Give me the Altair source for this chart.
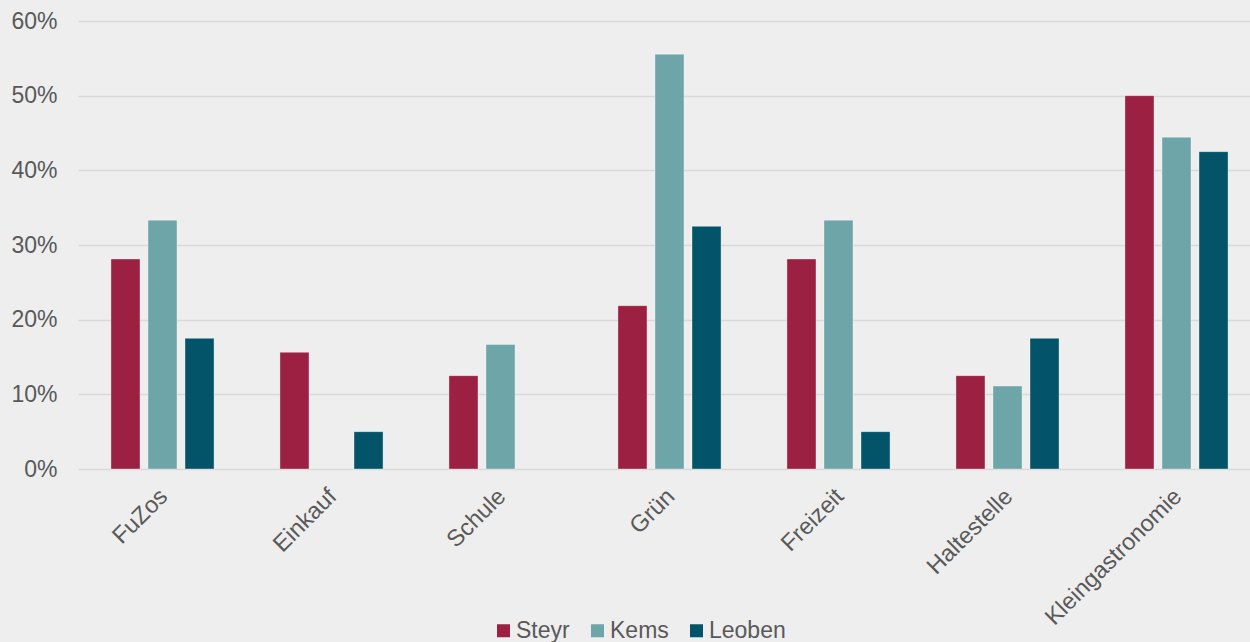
import altair as alt
import pandas as pd

categories = ["FuZos", "Einkauf", "Schule", "Grün", "Freizeit", "Haltestelle", "Kleingastronomie"]
series = ["Steyr", "Kems", "Leoben"]
steyr = [0.28125, 0.15625, 0.125, 0.21875, 0.28125, 0.125, 0.50]
kems = [0.3333, 0.0, 0.1667, 0.5556, 0.3333, 0.1111, 0.4444]
leoben = [0.175, 0.05, 0.0, 0.325, 0.05, 0.175, 0.425]
colors = ["#9C2042", "#6EA5A8", "#035468"]

rows = []
for name, vals in zip(series, [steyr, kems, leoben]):
    for c, v in zip(categories, vals):
        rows.append({"Kategorie": c, "Stadt": name, "Wert": v})
df = pd.DataFrame(rows)

FONT = "Liberation Sans"
FS = 23

chart = alt.Chart(df).mark_bar(
    stroke="white", strokeWidth=1, strokeOpacity=0.35
).encode(
    x=alt.X("Kategorie:N", sort=categories, title=None,
            scale=alt.Scale(range=[-1, 1182], paddingInner=0, paddingOuter=0),
            axis=alt.Axis(labelAngle=-45, labelFontSize=23.5, labelColor="#595959",
                          labelFont=FONT, ticks=False, domain=False, labelPadding=15,
                          labelAlign="right", labelBaseline="top", labelOffset=-7,
                          labelLimit=500)),
    xOffset=alt.XOffset("Stadt:N", sort=series,
                        scale=alt.Scale(paddingInner=0.216, paddingOuter=0.89)),
    y=alt.Y("Wert:Q", title=None,
            scale=alt.Scale(domain=[0, 0.6], nice=False),
            axis=alt.Axis(format=".0%", values=[0, 0.1, 0.2, 0.3, 0.4, 0.5, 0.6],
                          labelFontSize=FS, labelColor="#595959", labelFont=FONT,
                          ticks=False, domain=False, labelPadding=22,
                          gridColor="#D9D9D9", gridWidth=1.5)),
    color=alt.Color("Stadt:N", sort=series,
                    scale=alt.Scale(domain=series, range=colors),
                    legend=alt.Legend(title=None, orient="none", direction="horizontal",
                                      legendX=413, legendY=598, symbolType="square",
                                      symbolSize=169, symbolStrokeWidth=0,
                                      labelFontSize=FS, labelColor="#595959",
                                      labelFont=FONT, labelOffset=1, columnPadding=16)),
).transform_filter(
    alt.datum.Wert > 0
).properties(
    width=1171, height=448,
    autosize=alt.AutoSizeParams(type="none"),
    padding={"left": 79, "top": 21, "right": 0, "bottom": 173},
    background="#EEEEEE",
).configure_view(stroke=None)

chart.save("out.html", embed_options={"renderer": "svg", "actions": False})
